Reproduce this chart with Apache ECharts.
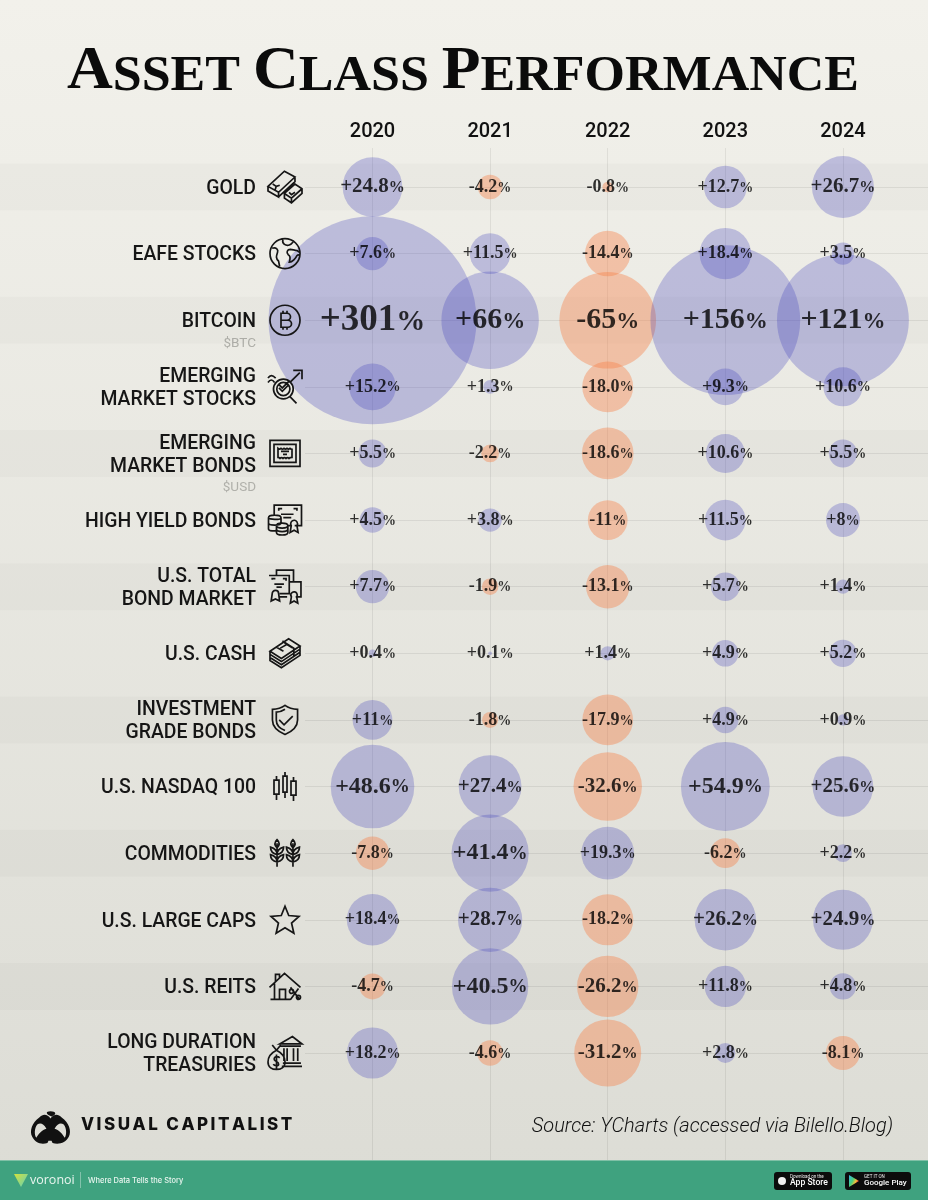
<!DOCTYPE html>
<html>
<head>
<meta charset="utf-8">
<style>html,body{margin:0;padding:0;background:#e8e8e1}#chart{width:928px;height:1200px}</style>
<script src="https://cdn.jsdelivr.net/npm/echarts@6/dist/echarts.min.js"></script>
</head>
<body>
<div id="chart"></div>
<script>
const years = [2020, 2021, 2022, 2023, 2024];
const assets = ['GOLD', 'EAFE STOCKS', 'BITCOIN', 'EMERGING\nMARKET STOCKS', 'EMERGING\nMARKET BONDS',
    'HIGH YIELD BONDS', 'U.S. TOTAL\nBOND MARKET', 'U.S. CASH', 'INVESTMENT\nGRADE BONDS', 'U.S. NASDAQ 100',
    'COMMODITIES', 'U.S. LARGE CAPS', 'U.S. REITS', 'LONG DURATION\nTREASURIES'];
const tickers = { 'BITCOIN': '$BTC', 'EMERGING\nMARKET BONDS': '$USD' };

const returns2020 = [24.8, 7.6, 301, 15.2, 5.5, 4.5, 7.7, 0.4, 11, 48.6, -7.8, 18.4, -4.7, 18.2];
const returns2021 = [-4.2, 11.5, 66, 1.3, -2.2, 3.8, -1.9, 0.1, -1.8, 27.4, 41.4, 28.7, 40.5, -4.6];
const returns2022 = [-0.8, -14.4, -65, -18.0, -18.6, -11, -13.1, 1.4, -17.9, -32.6, 19.3, -18.2, -26.2, -31.2];
const returns2023 = [12.7, 18.4, 156, 9.3, 10.6, 11.5, 5.7, 4.9, 4.9, 54.9, -6.2, 26.2, 11.8, 2.8];
const returns2024 = [26.7, 3.5, 121, 10.6, 5.5, 8, 1.4, 5.2, 0.9, 25.6, 2.2, 24.9, 4.8, -8.1];
const returnsByYear = [returns2020, returns2021, returns2022, returns2023, returns2024];

// line icons, one per row, 32x32 box
const icons = [
    'M2 16L16 3L25 8L11 21ZM2 16V20L11 25V21M11 25L25 12V8M6 14L9 16M9 16L8 19M9 16L12 15M16 22L25 14L31 18V22L22 30L16 26ZM16 22L22 26L31 18M22 26V30M20 21L22 23L25 21',
    'M16 2A14 14 0 1 1 15.99 2ZM4 11C8 10 10 12 9 15C8 18 7 20 10 23L11 28M14 3C13 7 17 9 20 8C23 7 24 4 24 5M30 15C27 12 24 13 21 12C18 12 17 15 19 17C21 18 21 21 20 24C23 24 26 20 27 18C28 17 29 17 30 18',
    'M16 1A15 15 0 1 1 15.99 1ZM12 9H18A3.5 3.5 0 0 1 18 16H12ZM12 16H19A3.5 3.5 0 0 1 19 23H12ZM14 6.5V9M18 6.5V9M14 23V25.5M18 23V25.5',
    'M15 10A9 9 0 1 1 14.99 10ZM15 13A6 6 0 1 1 14.99 13ZM11 18L14 21L20 15M11 15L14 18L20 12M21 26L27 32M21 13L30 4M24 2H32V10M1 13C3 10 5 10 7 13M1 9C3 6 5 6 8 9',
    'M1 3H31V29H1ZM5 7H27V25H5ZM9 11C10 12 11 12 12 11C13 12 14 12 15 11C16 12 17 12 18 11C19 12 20 12 21 11C22 12 23 12 23 12V20C22 20 21 20 20 21C19 20 18 20 17 21C16 20 15 20 14 21C13 20 12 20 11 21C10 20 9 20 9 20ZM12 14H20M14 17H18',
    'M7 12V3H31V21H25M22 21H19M11 8V6H14M24 6H27V8M13 11H24M15 14H22M22 21A3 3 0 1 1 27 21L28 27L24.5 25L21 27ZM2 14C2 11 13 11 13 14V19C13 21 2 21 2 19ZM2 14C2 16 13 16 13 14M2 19V24C2 26 8 26 9 25M9 21C9 18 19 18 19 21V27C19 30 9 30 9 27ZM9 21C9 24 19 24 19 21M9 24C9 27 19 27 19 24',
    'M8 6V1H24V12M1 6H20V23H11M4 10V9H7M14 9H17V11M6 14H15M8 17H13M4 23A3 3 0 1 1 10 23L11 30L7 28L3 30ZM20 12H31V26H26M11 26H18M22 26A3 3 0 1 1 27 26L28 32L24.5 30L21 32Z',
    'M2 16L20 4L31 11L13 23ZM8 12L15 16M16 8L24 13M12 13L19 9M2 16V19L13 26L31 14V11M2 19V22L13 29L31 17V14M2 22V25L13 32L31 20V17M14 6L25 13V21',
    'M16 1C20 4 24 5 29 5V16C29 23 23 28 16 31C9 28 3 23 3 16V5C8 5 12 4 16 1ZM16 5C13 7 10 8 7 8V16C7 21 11 25 16 27M10 16L15 21L24 12',
    'M5 9H10V23H5ZM7.5 5V9M7.5 23V29M14 5H18V21H14ZM16 1V5M16 21V27M22 10H27V24H22ZM24.5 6V10M24.5 24V30',
    'M8 31V6M8 2C11 5 11 8 8 11C5 8 5 5 8 2ZM8 18C3 17 1 14 1 10C5 11 8 14 8 18ZM8 18C13 17 15 14 15 10C11 11 8 14 8 18ZM8 26C3 25 1 22 1 18C5 19 8 22 8 26ZM8 26C13 25 15 22 15 18C11 19 8 22 8 26ZM25 31V6M25 2C28 5 28 8 25 11C22 8 22 5 25 2ZM25 18C20 17 18 14 18 10C22 11 25 14 25 18ZM25 18C30 17 32 14 32 10C28 11 25 14 25 18ZM25 26C20 25 18 22 18 18C22 19 25 22 25 26ZM25 26C30 25 32 22 32 18C28 19 25 22 25 26Z',
    'M16 2L20 12L31 13L23 20L25.5 31L16 25L6.5 31L9 20L1 13L12 12Z',
    'M0 17L15 3L31 17M5 13V29M21 29H1M6 11V4H10V7M10 29V19H16V29M21 17L30 29M22 19A2 2 0 1 1 21.99 19ZM29 25A2 2 0 1 1 28.99 25ZM29 18L21 29',
    'M11 8L23 1L32 8ZM12 10H31M15 12V24M18 12V24M24 12V24M28 12V24M14 26H31M13 29H32M4 9L8 14M12 9L8 14M8 14C2 17 0 21 0 25C0 30 4 32 8 32C12 32 16 30 16 25C16 21 14 17 8 14ZM11 21C9 19 5 20 6 23C7 25 10 24 10 27C10 29 6 29 5 27M8 18V31'
];
const iconSizes = [34, 30, 30, 34, 30, 33, 33, 30, 29, 29, 29, 28, 31, 34];
const logoPath = 'M19 0C24 0 26 3 20 5C14 3 14 0 19 0ZM8 6C12 2 16 3 19 7C22 3 26 2 30 6C37 11 40 19 37 25C34 31 27 33 21 31L20 29L17 29L16 31C10 33 4 31 1 25C-2 19 1 11 8 6ZM6 13C3 17 3 23 5 26C7 22 11 18 15 17C12 12 9 11 6 13ZM32 13C29 11 26 12 23 17C27 18 31 22 33 26C35 23 35 17 32 13Z';

const textColor = '#161616';

// bubble area follows the size of the return
function bubbleSize(v) {
    return 208 * Math.sqrt(Math.abs(v) / 301);
}
function labelSize(v) {
    const a = Math.abs(v);
    if (a >= 300) return 37;
    if (a >= 60) return 30;
    if (a >= 40) return 24;
    if (a >= 24) return 21;
    return 18;
}
function labelText(v) {
    // the picture prints -18.0 with its zero
    const n = v === -18 ? '-18.0' : (v > 0 ? '+' : '') + v;
    return `{n|${n}}{p|%}`;
}

function labelStyle(v) {
    const s = labelSize(v);
    return {
        show: true,
        position: 'inside',
        formatter: labelText(v),
        rich: {
            n: { fontFamily: 'Liberation Serif', fontWeight: 'bold', fontSize: s, color: '#000', lineHeight: s + 2 },
            p: { fontFamily: 'Liberation Serif', fontWeight: 'bold', fontSize: Math.round(s * 0.78), color: '#000', lineHeight: s + 2, padding: [Math.round(s * 0.1), 0, 0, 0] }
        }
    };
}

const points = [];
returnsByYear.forEach((vals, c) => vals.forEach((v, r) => points.push({ year: years[c], asset: assets[r], v })));

function rowLabel(name) {
    const lines = name.split('\n').map(l => `{n|${l}}`).join('\n');
    if (tickers[name]) return `{g| }\n${lines}\n{s|${tickers[name]}}`;
    return lines;
}

// the x range runs from one column left of 2020 to the page edge, so the 2020 column lands where it should
const bubbleX = { type: 'value', min: 2019, max: 2024.72, interval: 1 };
const catY = { type: 'category', data: assets, inverse: true, boundaryGap: false };

const option = {
    backgroundColor: {
        type: 'linear', x: 0, y: 0, x2: 0, y2: 1,
        colorStops: [{ offset: 0, color: '#f2f1eb' }, { offset: 1, color: '#dcdcd5' }]
    },
    animation: false,
    grid: [
        { left: 0, width: 928, top: 187, height: 866 },     // bands and icons
        { left: 305, width: 623, top: 187, height: 866 },   // row lines and row labels
        { left: 254.9, width: 672.7, top: 148, height: 1012 },// column lines and years
        { left: 254.9, width: 672.7, top: 187, height: 866 }  // bubbles
    ],
    xAxis: [
        { gridIndex: 0, type: 'value', min: 0, max: 928, show: false },
        { gridIndex: 1, type: 'value', min: 0, max: 1, show: false },
        {
            gridIndex: 2, ...bubbleX, position: 'top',
            axisLine: { show: false }, axisTick: { show: false },
            splitLine: { show: true, showMinLine: false, showMaxLine: false, lineStyle: { color: 'rgba(0,0,0,0.07)', width: 1 } },
            axisLabel: {
                margin: 6, showMinLabel: false, showMaxLabel: false,
                formatter: v => years.includes(v) ? String(v) : '',
                fontFamily: 'Roboto', fontWeight: 500, fontSize: 20, color: '#111'
            }
        },
        { gridIndex: 3, ...bubbleX, show: false }
    ],
    yAxis: [
        { gridIndex: 0, ...catY, show: false },
        {
            gridIndex: 1, ...catY,
            axisLine: { show: false }, axisTick: { show: false },
            splitLine: { show: true, lineStyle: { color: 'rgba(0,0,0,0.07)', width: 1 } },
            axisLabel: {
                margin: 49, interval: 0, align: 'right', padding: [4, 0, 0, 0],
                formatter: rowLabel,
                rich: {
                    n: { fontFamily: 'Roboto', fontWeight: 500, fontSize: 19.4, color: textColor, lineHeight: 23, align: 'right' },
                    s: { fontFamily: 'Roboto', fontSize: 13.5, color: '#b0b0aa', lineHeight: 19, align: 'right' },
                    g: { fontSize: 13.5, lineHeight: 19 }
                }
            }
        },
        { gridIndex: 2, type: 'value', min: 0, max: 1, show: false },
        { gridIndex: 3, ...catY, show: false }
    ],
    series: [
        {
            name: 'bands', type: 'bar', xAxisIndex: 0, yAxisIndex: 0, barWidth: 47, clip: false, silent: true, z: 1,
            itemStyle: { color: 'rgba(0,0,0,0.018)' },
            data: assets.map((a, i) => i % 2 === 0 ? 928 : null)
        },
        {
            name: 'icons', type: 'scatter', xAxisIndex: 0, yAxisIndex: 0, silent: true, z: 5, symbolKeepAspect: true,
            itemStyle: { color: 'rgba(0,0,0,0)', borderColor: '#161616', borderWidth: 1.7, opacity: 1 },
            data: assets.map((a, i) => ({ value: [285, a], symbol: 'path://' + icons[i], symbolSize: iconSizes[i] }))
        },
        {
            name: 'returns', type: 'scatter', xAxisIndex: 3, yAxisIndex: 3, z: 3, silent: true,
            data: points.map(p => ({
                value: [p.year, p.asset, p.v],
                symbolSize: bubbleSize(p.v),
                itemStyle: { color: p.v >= 0 ? 'rgba(60,62,188,0.28)' : 'rgba(248,128,70,0.4)', opacity: 1 }
            }))
        },
        {
            name: 'labels', type: 'scatter', xAxisIndex: 3, yAxisIndex: 3, z: 6, silent: true, symbolSize: 1,
            itemStyle: { color: 'rgba(0,0,0,0)' },
            data: points.map(p => ({ value: [p.year, p.asset, p.v], label: labelStyle(p.v) }))
        },
        {
            name: 'logo', type: 'custom', coordinateSystem: 'none', silent: true, z: 7, data: [0],
            renderItem: () => ({
                type: 'path', x: 31, y: 1111,
                shape: { pathData: logoPath, x: 0, y: 0, width: 39, height: 33 },
                style: { fill: '#111' }
            })
        }
    ],
    graphic: [
        {
            type: 'text', x: 463, y: 72, scaleX: 1.04, z: 10,
            style: {
                align: 'center', verticalAlign: 'middle', textAlign: 'center', textVerticalAlign: 'middle',
                text: '{a|A}{b|SSET}{b|\u00A0}{a|C}{b|LASS}{b|\u00A0}{a|P}{b|ERFORMANCE}',
                rich: {
                    a: { fontFamily: 'Liberation Serif', fontWeight: 'bold', fontSize: 61, fill: '#0b0b0b', verticalAlign: 'bottom' },
                    b: { fontFamily: 'Liberation Serif', fontWeight: 'bold', fontSize: 50, fill: '#0b0b0b', verticalAlign: 'bottom' }
                }
            }
        },
        {
            type: 'text', x: 893, y: 1127, z: 10,
            style: { text: 'Source: YCharts (accessed via Bilello.Blog)', font: 'italic 300 20px Roboto', fill: '#111', textAlign: 'right', textVerticalAlign: 'middle' }
        },
        {
            type: 'text', x: 81, y: 1125, z: 10,
            style: { text: 'V\u2009I\u2009S\u2009U\u2009A\u2009L\u2002C\u2009A\u2009P\u2009I\u2009T\u2009A\u2009L\u2009I\u2009S\u2009T', font: '800 17px Inter', fill: '#111', textVerticalAlign: 'middle' }
        },
        { type: 'rect', z: 10, shape: { x: 0, y: 1160, width: 928, height: 40 }, style: { fill: '#3fa27f' } },
        { type: 'rect', z: 10, shape: { x: 0, y: 1160, width: 928, height: 1 }, style: { fill: '#7fc0a6' } },
        {
            type: 'polygon', z: 11,
            shape: { points: [[14, 1174], [28, 1174], [21, 1187]] },
            style: { fill: { type: 'linear', x: 0, y: 0, x2: 1, y2: 1, colorStops: [{ offset: 0, color: '#d7e23b' }, { offset: 1, color: '#5ed0b8' }] } }
        },
        { type: 'text', z: 11, x: 30, y: 1180, style: { text: 'voronoi', font: '500 12.5px "Open Sans"', fill: '#e9f5ef', textVerticalAlign: 'middle' } },
        { type: 'rect', z: 11, shape: { x: 80, y: 1172, width: 1, height: 16 }, style: { fill: 'rgba(255,255,255,0.35)' } },
        { type: 'text', z: 11, x: 88, y: 1181, style: { text: 'Where Data Tells the Story', font: '500 7.5px Inter', fill: '#e9f5ef', textVerticalAlign: 'middle' } },
        { type: 'rect', z: 11, shape: { x: 774, y: 1172, width: 58, height: 18, r: 3 }, style: { fill: '#0c0c0c' } },
        { type: 'circle', z: 12, shape: { cx: 782, cy: 1181, r: 4 }, style: { fill: '#f2f2f2' } },
        { type: 'text', z: 12, x: 790, y: 1176.5, style: { text: 'Download on the', font: '4.5px Roboto', fill: '#eee', textVerticalAlign: 'middle' } },
        { type: 'text', z: 12, x: 790, y: 1183, style: { text: 'App Store', font: '500 8.6px Roboto', fill: '#fff', textVerticalAlign: 'middle' } },
        { type: 'rect', z: 11, shape: { x: 845, y: 1172, width: 66, height: 18, r: 3 }, style: { fill: '#0c0c0c' } },
        {
            type: 'polygon', z: 12, shape: { points: [[849, 1175], [849, 1187], [859, 1181]] },
            style: { fill: { type: 'linear', x: 0, y: 0, x2: 1, y2: 0.4, colorStops: [{ offset: 0, color: '#38b6e8' }, { offset: 0.5, color: '#4bcf7c' }, { offset: 0.8, color: '#f6c13a' }, { offset: 1, color: '#e8453c' }] } }
        },
        { type: 'text', z: 12, x: 864, y: 1176.5, style: { text: 'GET IT ON', font: '4.5px Roboto', fill: '#eee', textVerticalAlign: 'middle' } },
        { type: 'text', z: 12, x: 864, y: 1183, style: { text: 'Google Play', font: '500 8px Roboto', fill: '#fff', textVerticalAlign: 'middle' } }
    ]
};

const chart = echarts.init(document.getElementById('chart'));
chart.setOption(option);
</script>
</body>
</html>
